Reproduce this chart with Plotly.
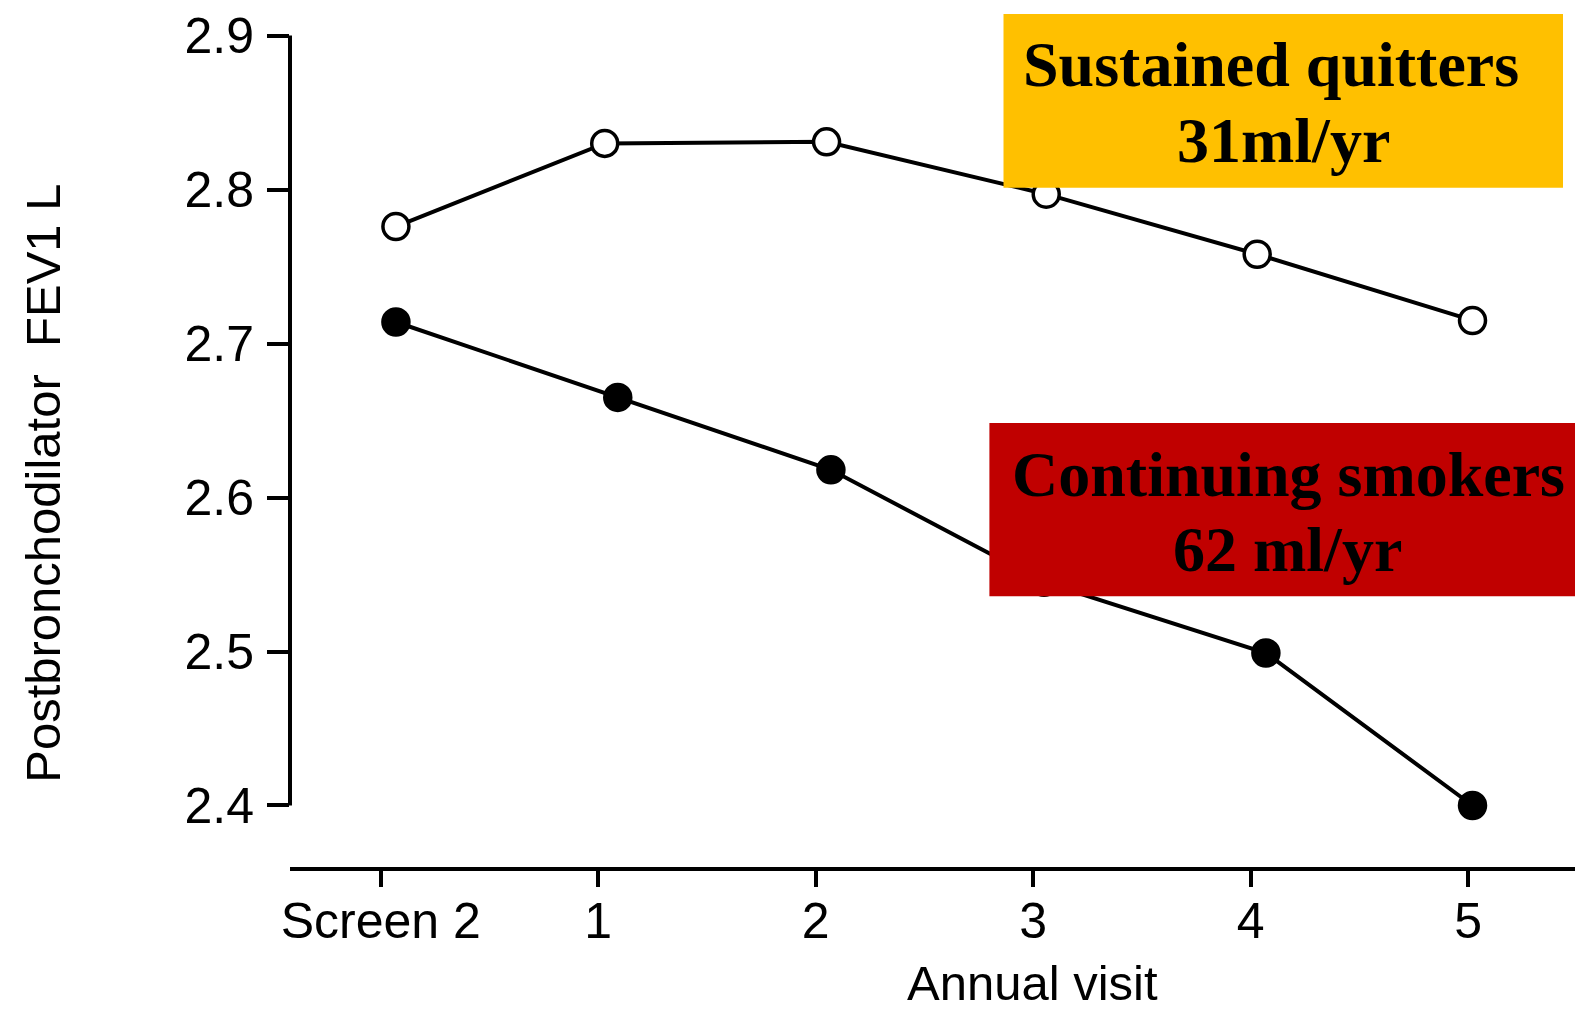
import plotly.graph_objects as go

# ---- data ----
visit_labels = ["Screen 2", "1", "2", "3", "4", "5"]
visit_ticks = [0, 1, 2, 3, 4, 5]
fev1_ticks = [2.4, 2.5, 2.6, 2.7, 2.8, 2.9]
fev1_ticktext = ["2.4", "2.5", "2.6", "2.7", "2.8", "2.9"]

quitters_visit = [0.07, 1.03, 2.05, 3.06, 4.03, 5.02]
quitters_fev1 = [2.776, 2.830, 2.831, 2.797, 2.758, 2.715]

smokers_visit = [0.07, 1.09, 2.07, 3.05, 4.07, 5.02]
smokers_fev1 = [2.714, 2.665, 2.618, 2.545, 2.499, 2.400]

quitters_label = ["Sustained quitters", "31ml/yr"]
smokers_label = ["Continuing smokers", "62 ml/yr"]
x_title = "Annual visit"
y_title = "Postbronchodilator  FEV1 L"

# ---- layout geometry ----
# the page body has an 8px default margin, so the figure is placed at (8, 8)
OFF = 8
PAGE_W, PAGE_H = 1583, 1014
W, H = PAGE_W - OFF, PAGE_H - OFF
PLOT_L, PLOT_T, PLOT_B = 290, OFF, 867        # page pixels
L, T, B = PLOT_L - OFF, PLOT_T - OFF, PAGE_H - PLOT_B
PW, PH = PAGE_W - PLOT_L, PLOT_B - PLOT_T

def px(x):
    return (x - PLOT_L) / PW

def py(y):
    return 1 - (y - PLOT_T) / PH

SANS = "Liberation Sans Narrow, Arial Narrow, Liberation Sans, Arial, sans-serif"
SERIF = "Liberation Serif, Times New Roman, serif"

fig = go.Figure()
fig.add_trace(go.Scatter(
    x=quitters_visit, y=quitters_fev1, mode="lines+markers",
    line=dict(color="black", width=4),
    marker=dict(symbol="circle", size=26, color="white",
                line=dict(color="black", width=3.5)),
    showlegend=False, cliponaxis=False))
fig.add_trace(go.Scatter(
    x=smokers_visit, y=smokers_fev1, mode="lines+markers",
    line=dict(color="black", width=4),
    marker=dict(symbol="circle", size=26, color="black",
                line=dict(color="black", width=3.5)),
    showlegend=False, cliponaxis=False))

shapes = [
    # y-axis spine, only between 2.4 and 2.9
    dict(type="line", xref="paper", yref="y", x0=0, x1=0,
         y0=fev1_ticks[0], y1=fev1_ticks[-1],
         line=dict(color="black", width=4), layer="above"),
    # label boxes
    dict(type="rect", xref="paper", yref="paper",
         x0=px(1003.5), x1=px(1563), y0=py(184.5), y1=py(10),
         fillcolor="#FFC000", line=dict(width=0), layer="above"),
    dict(type="rect", xref="paper", yref="paper",
         x0=px(989.4), x1=px(1590), y0=py(595), y1=py(421),
         fillcolor="#C00000", line=dict(width=0), layer="above"),
]

def ann(text, x, y, font, size, bold=False, angle=0):
    return dict(text=("<b>%s</b>" % text) if bold else text,
                xref="paper", yref="paper", x=px(x), y=py(y),
                xanchor="center", yanchor="middle", showarrow=False,
                textangle=angle,
                font=dict(family=font, size=size, color="black"))

annotations = [
    ann(quitters_label[0], 1271, 61, SERIF, 64, bold=True),
    ann(quitters_label[1], 1283, 137, SERIF, 64, bold=True),
    ann(smokers_label[0], 1288, 473, SERIF, 64, bold=True),
    ann(smokers_label[1], 1287, 548, SERIF, 64, bold=True),
    ann(x_title, 1032, 984, SANS, 49),
    ann(y_title, 43, 482, SANS, 49, angle=-90),
]

fig.update_layout(
    width=W, height=H,
    margin=dict(l=L, r=0, t=T, b=B, pad=0),
    paper_bgcolor="white", plot_bgcolor="white",
    shapes=shapes, annotations=annotations,
    xaxis=dict(range=[-0.417, 5.528], tickvals=visit_ticks, ticktext=visit_labels,
               showgrid=False, zeroline=False, showline=True, linecolor="black",
               linewidth=4, ticks="outside", ticklen=16, tickwidth=4,
               tickcolor="black", ticklabelstandoff=-9, ticklabeloverflow="allow",
               tickfont=dict(family=SANS, size=50, color="black")),
    yaxis=dict(range=[2.36005, 2.91532], tickvals=fev1_ticks, ticktext=fev1_ticktext,
               showgrid=False, zeroline=False, showline=False,
               ticks="outside", ticklen=22, tickwidth=4, tickcolor="black",
               ticklabelstandoff=3, ticklabeloverflow="allow",
               tickfont=dict(family=SANS, size=50, color="black")),
)

fig.write_html("out.html")
